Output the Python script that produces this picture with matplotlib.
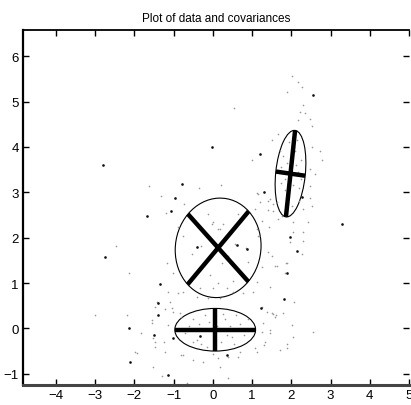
import numpy as np
import matplotlib
matplotlib.use("Agg")
import matplotlib.pyplot as plt
from matplotlib.patches import Ellipse

plt.rcParams['font.family'] = ['Liberation Sans', 'DejaVu Sans']

# sample points, the darker ones first
dark_x = [-0.02, -2.81, -0.79, -0.97, -1.07, -1.68, -2.76, -1.35, -1.40, -1.40,
          -2.14, -2.12, -1.15, -1.50, -1.02, -0.33, 2.55, 1.20, 1.30, 2.27,
          1.96, 2.14, 0.87, 1.89, 1.81, 1.22, 3.29, 0.36, -0.41, 0.61]
dark_y = [4.00, 3.60, 3.19, 2.88, 2.59, 2.48, 1.58, 0.97, 0.55, 0.29,
          0.00, -0.75, -1.03, -0.15, -0.22, -0.16, 5.14, 3.85, 3.00, 2.90,
          2.02, 1.71, 1.76, 1.21, 0.64, 0.46, 2.29, -0.59, 1.80, 1.83]

light_x = [2.02, 2.17, 2.27, 1.89, 0.54, 2.30, 2.22, 2.35, 2.17, 2.47, 2.54, 1.66,
           1.50, 2.52, 2.73, 2.78, 0.99, 2.47, 2.60, 2.47, 2.47, 2.52, 2.30, 2.42,
           2.04, 1.76, 1.53, 1.07, 1.53, 1.45, 1.15, 1.12, 1.20, 1.40, 1.25, 1.43,
           2.04, 2.30, 1.96, 2.30, 2.27, 1.50, 1.58, 1.89, 1.25, 1.45, 1.15, 1.63,
           1.40, 1.66,
           1.80, 2.10, 1.85, 2.20, 1.90, 2.12, 1.75, 2.25, 1.95, 2.15, 1.85, 2.20,
           2.02, 2.25, 1.75, 2.05, 1.90, 2.18, 1.70, 2.08,
           -1.63, -0.36, 0.20, -1.33, -0.74, -1.20, -2.47, -2.14, -3.01, -2.19, -1.84,
           -1.94, -1.17, -1.02, -1.15, -1.43, -1.48, -1.05, -1.56, -1.53, -1.48, -1.53,
           -1.30, -1.99, -1.22, -1.10, -0.89, -1.56, -1.15, -1.25, -1.48, -1.22, -1.02,
           -0.84,
           -0.03, -0.28, 0.18, 0.00, -0.13, 0.25, 0.13, -0.77, -0.89, 0.64, 0.56, 0.84,
           1.17, -0.31, -0.54, 0.23, 0.38, 0.89, -0.08, 0.13, 0.51, -0.33, 0.00, 0.36,
           -0.77, -0.41, -0.13, 0.18, 0.51, 0.77, 1.12, 1.40, 1.12, 1.02, 1.63, 1.84,
           1.86,
           -0.80, -0.51, 0.00, 0.69, 1.07, 1.71, 1.89, 2.02, 2.04, 2.55, 2.07, 1.25,
           1.38, 1.58, 1.50, 1.79, 1.61, 1.28, 1.25, 1.45, 1.33, 1.12, 1.53, 1.30,
           1.89, 1.45, 0.38, -0.66, -0.77, -0.51, -0.26, 0.13, 0.38, 0.64, 0.18,
           0.30, -0.50, 0.50, -0.40, 0.70, -0.70, 0.20, -0.20, 0.60, -0.30, 0.80, 0.45,
           -0.60, -0.10, 0.25, -0.35, 0.90, 0.55, -0.15, 0.35, -0.80, 0.10]
light_y = [5.56, 5.43, 5.32, 5.21, 4.86, 4.92, 4.77, 4.75, 4.60, 4.62, 4.47, 4.29,
           4.15, 4.00, 3.91, 3.70, 3.70, 3.52, 3.40, 3.14, 2.88, 2.70, 2.62, 2.35,
           2.35, 2.48, 2.59, 2.64, 2.75, 2.86, 2.97, 2.99, 2.79, 2.81, 2.37, 2.24,
           2.13, 2.13, 1.91, 1.93, 1.65, 1.60, 1.38, 1.43, 1.36, 0.92, 2.04, 2.79,
           2.60, 2.42,
           3.80, 3.90, 3.30, 3.10, 2.90, 3.60, 3.55, 3.70, 4.10, 4.15, 3.05, 2.80,
           2.70, 3.30, 3.20, 3.15, 3.65, 3.45, 3.90, 4.00,
           3.14, 3.10, 3.16, 2.92, 2.75, 2.55, 1.82, 1.23, 0.29, 0.29, -0.11,
           -0.55, 1.43, 1.21, 0.81, 0.59, 0.48, 0.44, 0.18, -0.22, -0.40, -0.84,
           -1.06, -0.51, 0.42, 0.59, 0.77, 0.11, 0.07, -0.29, -0.29, -0.51, 0.37,
           0.35,
           2.31, 2.20, 2.20, 2.35, 2.51, 2.31, 2.18, 2.04, 2.24, 2.53, 1.87, 1.78,
           2.04, 1.82, 1.65, 1.45, 1.60, 1.47, 1.17, 0.99, 1.05, 0.90, 0.88, 0.88,
           0.81, 0.70, 0.66, 0.68, 0.81, 0.77, 1.03, 1.69, 2.20, 0.81, 1.38, 1.23,
           1.43,
           -0.59, -0.29, -0.57, -0.51, -0.44, -0.48, -0.44, 0.07, -0.18, -0.09, 0.59, 0.48,
           0.37, 0.26, 0.35, 0.33, 0.29, 0.11, -0.07, -0.11, -0.29, -0.51, 0.31, -0.37,
           -0.35, -0.04, -1.10, -1.21, -0.59, -0.70, -0.73, -0.66, -0.62, -0.62, -0.84,
           0.20, 0.20, -0.20, -0.25, 0.10, -0.10, -0.30, 0.30, 0.30, -0.35, -0.15, 0.05,
           0.05, 0.15, 0.32, 0.10, 0.20, -0.35, -0.40, -0.15, 0.25, 0.05]

# covariance ellipses: centre, semi-axes and angle of the major axis (degrees)
cen_x = [0.06, 0.135, 1.98]
cen_y = [-0.03, 1.775, 3.41]
semi_a = [1.03, 1.12, 0.96]
semi_b = [0.47, 1.07, 0.377]
angle = [0.0, 46.0, 83.0]

fig = plt.figure(figsize=(4.11, 4.06), dpi=100)
ax = fig.add_axes([0.056, 0.049, 0.939, 0.874])

ax.plot(light_x, light_y, 'o', ms=1.2, mec='none', mfc='#999999')
ax.plot(dark_x, dark_y, 'o', ms=1.9, mec='none', mfc='#111111')

for cx, cy, a, b, ang in zip(cen_x, cen_y, semi_a, semi_b, angle):
    ax.add_patch(Ellipse((cx, cy), 2 * a, 2 * b, angle=ang,
                         fill=False, ec='black', lw=0.8))
    t = np.deg2rad(ang)
    # major and minor axis lines
    for r, phi in ((a, t), (b, t + np.pi / 2)):
        dx, dy = r * np.cos(phi), r * np.sin(phi)
        ax.plot([cx - dx, cx + dx], [cy - dy, cy + dy], '-', color='black',
                lw=3.2, solid_capstyle='butt')

ax.set_xlim(-4.84, 5.0)
ax.set_ylim(-1.25, 6.57)
ax.set_xticks(range(-4, 6))
ax.set_yticks(range(-1, 7))
ax.tick_params(direction='in', length=4, width=1, labelsize=9.5,
               top=True, right=True, pad=3)
ax.spines['right'].set_visible(False)
ax.spines['left'].set_linewidth(1.6)
ax.spines['top'].set_linewidth(1.3)
ax.spines['bottom'].set_linewidth(2.2)
ax.spines['bottom'].set_color('#444444')
ax.set_title('Plot of data and covariances', fontsize=8.5, pad=7)

fig.savefig('out.png', dpi=100)
